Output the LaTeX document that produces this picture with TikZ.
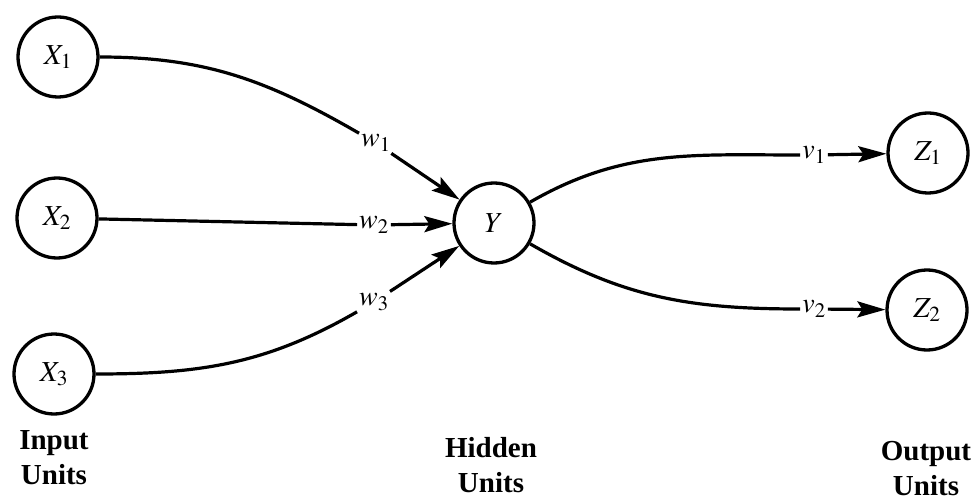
\documentclass[tikz,border=0pt]{standalone}
\usepackage{mathptmx}
\usepackage{fontspec}
\setmainfont{Liberation Serif}
\usetikzlibrary{arrows.meta}
\tikzset{
  unit/.style={circle,draw,line width=3.3pt,minimum size=80pt,inner sep=0pt,font=\fontsize{29}{34}\selectfont},
  wlabel/.style={inner sep=2pt,font=\fontsize{28}{34}\selectfont},
  layer/.style={align=center,font=\fontsize{29}{35}\selectfont\bfseries},
  link/.style={line width=3.2pt},
  tip/.style={-{Stealth[length=28pt,width=16pt,inset=5pt]}}
}

\begin{document}
\begin{tikzpicture}[x=1pt,y=1pt]
  \useasboundingbox (0,0) rectangle (973,-502);
  \node[unit] (X1) at (58,-57) {$X_1$};
  \node[unit] (X2) at (57,-218) {$X_2$};
  \node[unit] (X3) at (54,-374) {$X_3$};
  \node[unit] (Y) at (494,-223) {$Y$};
  \node[unit] (Z1) at (928,-153) {$Z_1$};
  \node[unit] (Z2) at (927,-310) {$Z_2$};
  \node[wlabel] (w1) at (376,-143) {$w_1$};
  \node[wlabel] (w2) at (374,-225) {$w_2$};
  \node[wlabel] (w3) at (374,-302) {$w_3$};
  \node[wlabel] (v1) at (814,-155) {$v_1$};
  \node[wlabel] (v2) at (814,-309) {$v_2$};
  \draw[link] (X1) to[out=0,in=150] (w1);
  \draw[link,tip] (w1) -- (Y);
  \draw[link] (X2) -- (w2);
  \draw[link,tip] (w2) -- (Y);
  \draw[link] (X3) to[out=0,in=-150] (w3);
  \draw[link,tip] (w3) -- (Y);
  \draw[link] (Y) to[out=30,in=180] (v1);
  \draw[link,tip] (v1) -- (Z1);
  \draw[link] (Y) to[out=-30,in=180] (v2);
  \draw[link,tip] (v2) -- (Z2);
  \node[layer] (input) at (54,-458) {Input\\Units};
  \node[layer] (hidden) at (491,-465) {Hidden\\Units};
  \node[layer] (output) at (926,-469) {Output\\Units};
\end{tikzpicture}
\end{document}
